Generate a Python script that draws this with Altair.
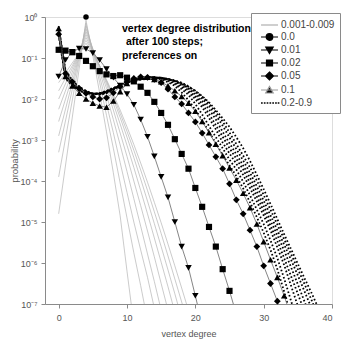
import altair as alt
import pandas as pd

# ---------------- data (log10 of probability) ----------------
# grey family 0.001 ... 0.009 (thin grey lines)
grey_x = {
    "0.001": [0, 4, 5, 6, 7, 8, 9, 10, 11],
    "0.002": [0, 4, 5, 6, 7, 8, 9, 10, 11, 12, 13],
    "0.003": [0, 4, 5, 6, 7, 8, 9, 10, 11, 12, 13, 14],
    "0.004": [0, 4, 5, 6, 7, 8, 9, 10, 11, 12, 13, 14, 15],
    "0.005": [0, 4, 5, 6, 7, 8, 9, 10, 11, 12, 13, 14, 15, 16],
    "0.006": [0, 4, 5, 6, 7, 8, 9, 10, 11, 12, 13, 14, 15, 16, 17],
    "0.007": [0, 4, 5, 6, 7, 8, 9, 10, 11, 12, 13, 14, 15, 16, 17, 18],
    "0.008": [0, 4, 5, 6, 7, 8, 9, 10, 11, 12, 13, 14, 15, 16, 17, 18, 19],
    "0.009": [0, 4, 5, 6, 7, 8, 9, 10, 11, 12, 13, 14, 15, 16, 17, 18, 19],
}
grey_log = {
    "0.001": [-4.8, -0.08, -0.95, -1.85, -2.8, -3.8, -4.85, -6.2, -7.5],
    "0.002": [-3.9, -0.15, -0.85, -1.6, -2.4, -3.2, -4.05, -4.9, -5.75, -6.55, -7.4],
    "0.003": [-3.3, -0.22, -0.8, -1.45, -2.12, -2.82, -3.55, -4.28, -5.0, -5.68, -6.35, -7.1],
    "0.004": [-2.9, -0.29, -0.78, -1.32, -1.9, -2.5, -3.12, -3.77, -4.43, -5.1, -5.78, -6.45, -7.15],
    "0.005": [-2.55, -0.36, -0.78, -1.24, -1.74, -2.27, -2.83, -3.4, -4.0, -4.6, -5.22, -5.85, -6.5, -7.15],
    "0.006": [-2.25, -0.43, -0.8, -1.2, -1.64, -2.11, -2.61, -3.13, -3.67, -4.23, -4.8, -5.39, -5.98, -6.58, -7.2],
    "0.007": [-2.0, -0.5, -0.83, -1.19, -1.58, -2.0, -2.45, -2.93, -3.43, -3.95, -4.49, -5.04, -5.6, -6.17, -6.75, -7.35],
    "0.008": [-1.8, -0.57, -0.86, -1.19, -1.55, -1.94, -2.35, -2.79, -3.25, -3.73, -4.23, -4.75, -5.28, -5.83, -6.39, -6.95, -7.52],
    "0.009": [-1.6, -0.64, -0.9, -1.2, -1.53, -1.89, -2.27, -2.68, -3.11, -3.56, -4.03, -4.52, -5.02, -5.54, -6.07, -6.61, -7.16],
}

# series drawn with markers
p00_x = [4]
p00_log = [0.0]
p001_log = [-1.45, -1.05, -0.85, -0.77, -0.78, -0.88, -1.05, -1.27, -1.48, -1.67, -1.88,
            -2.14, -2.5, -2.92, -3.4, -3.9, -4.4, -5.0, -5.6, -6.12, -6.8, -7.5]
p002_log = [-0.8, -0.82, -0.86, -0.95, -1.07, -1.2, -1.32, -1.4, -1.44, -1.42, -1.48,
            -1.57, -1.7, -1.85, -2.07, -2.34, -2.63, -2.98, -3.34, -3.7, -4.17, -4.63,
            -5.12, -5.6, -6.15, -6.68, -7.25]
p005_log = [-0.42, -1.38, -1.58, -1.74, -1.86, -1.95, -2.0, -1.97, -1.85, -1.7, -1.58,
            -1.5, -1.46, -1.47, -1.52, -1.6, -1.76, -1.95, -2.12, -2.34, -2.56, -2.83,
            -3.12, -3.41, -3.7, -4.07, -4.46, -4.8, -5.2, -5.6, -6.07, -6.5, -6.93, -7.4]
p01_log = [-0.28, -1.45, -1.68, -1.86, -2.0, -2.1, -2.17, -2.2, -2.05, -1.82, -1.62,
           -1.5, -1.46, -1.47, -1.52, -1.58, -1.68, -1.8, -1.94, -2.1, -2.3, -2.55,
           -2.82, -3.1, -3.38, -3.68, -3.98, -4.3, -4.65, -5.05, -5.48, -5.92, -6.35, -6.8, -7.3]

# dotted family 0.2 ... 0.9
dot_log = {
    "0.2": [-0.22, -1.30, -1.55, -1.70, -1.80, -1.87, -1.90, -1.86, -1.78, -1.68,
            -1.58, -1.52, -1.48, -1.46, -1.47, -1.52, -1.59, -1.68, -1.84, -2.03,
            -2.26, -2.52, -2.80, -3.08, -3.36, -3.62, -3.88, -4.18, -4.52, -4.88,
            -5.26, -5.68, -6.15, -6.70, -7.30],
    "0.3": [-0.25, -1.33, -1.57, -1.72, -1.81, -1.87, -1.89, -1.85, -1.77, -1.68,
            -1.59, -1.53, -1.49, -1.47, -1.47, -1.50, -1.56, -1.64, -1.76, -1.90,
            -2.12, -2.38, -2.66, -2.93, -3.20, -3.48, -3.72, -4.02, -4.35, -4.70,
            -5.05, -5.45, -5.88, -6.38, -6.92, -7.45],
    "0.4": [-0.28, -1.36, -1.59, -1.74, -1.82, -1.87, -1.88, -1.84, -1.76, -1.67,
            -1.59, -1.53, -1.49, -1.47, -1.47, -1.49, -1.54, -1.61, -1.71, -1.84,
            -2.00, -2.20, -2.46, -2.74, -3.06, -3.33, -3.58, -3.85, -4.17, -4.50,
            -4.84, -5.20, -5.62, -6.05, -6.55, -7.05],
    "0.5": [-0.32, -1.40, -1.62, -1.76, -1.83, -1.87, -1.87, -1.83, -1.75, -1.67,
            -1.59, -1.53, -1.50, -1.48, -1.47, -1.48, -1.52, -1.58, -1.67, -1.79,
            -1.94, -2.12, -2.36, -2.64, -2.92, -3.20, -3.46, -3.72, -4.05, -4.38,
            -4.73, -5.09, -5.46, -5.88, -6.32, -6.75, -7.20],
    "0.6": [-0.36, -1.43, -1.64, -1.77, -1.84, -1.87, -1.87, -1.82, -1.75, -1.67,
            -1.60, -1.54, -1.51, -1.49, -1.48, -1.48, -1.51, -1.56, -1.64, -1.75,
            -1.89, -2.05, -2.25, -2.50, -2.80, -3.08, -3.35, -3.62, -3.92, -4.26,
            -4.61, -4.97, -5.32, -5.70, -6.10, -6.52, -6.95, -7.40],
    "0.7": [-0.40, -1.46, -1.66, -1.78, -1.85, -1.87, -1.86, -1.81, -1.74, -1.67,
            -1.60, -1.55, -1.52, -1.50, -1.49, -1.49, -1.51, -1.55, -1.62, -1.72,
            -1.84, -1.99, -2.17, -2.40, -2.65, -2.94, -3.22, -3.50, -3.80, -4.13,
            -4.48, -4.84, -5.20, -5.55, -5.92, -6.30, -6.70, -7.10],
    "0.8": [-0.42, -1.48, -1.67, -1.79, -1.86, -1.88, -1.86, -1.81, -1.74, -1.67,
            -1.60, -1.55, -1.52, -1.50, -1.49, -1.49, -1.51, -1.55, -1.60, -1.69,
            -1.80, -1.94, -2.11, -2.32, -2.55, -2.82, -3.10, -3.38, -3.67, -3.99,
            -4.34, -4.70, -5.06, -5.42, -5.78, -6.15, -6.52, -6.90, -7.30],
    "0.9": [-0.45, -1.50, -1.68, -1.80, -1.86, -1.88, -1.86, -1.80, -1.73, -1.66,
            -1.60, -1.56, -1.53, -1.51, -1.50, -1.50, -1.52, -1.56, -1.62, -1.70,
            -1.80, -1.93, -2.08, -2.27, -2.47, -2.68, -2.93, -3.20, -3.51, -3.85,
            -4.20, -4.56, -4.93, -5.30, -5.66, -6.02, -6.38, -6.73, -7.10],
}

legend_labels = ["0.001-0.009", "0.0", "0.01", "0.02", "0.05", "0.1", "0.2-0.9"]
y_ticks = [1, 1e-1, 1e-2, 1e-3, 1e-4, 1e-5, 1e-6, 1e-7]
y_tick_labels = ["10⁰", "10⁻¹", "10⁻²", "10⁻³", "10⁻⁴", "10⁻⁵", "10⁻⁶", "10⁻⁷"]
x_ticks = [0, 10, 20, 30, 40]
title_lines = ["vertex degree distribution", "after 100 steps;", "preferences on"]

# ---------------- build long table ----------------
rows = []
for name, xs in grey_x.items():
    for x, lg in zip(xs, grey_log[name]):
        rows.append(dict(series=name, kind="grey", leg="0.001-0.009", x=x, p=10 ** lg))
marker_series = [("0.0", p00_x, p00_log), ("0.01", None, p001_log), ("0.02", None, p002_log),
                 ("0.05", None, p005_log), ("0.1", None, p01_log)]
for name, xs, lgs in marker_series:
    xs = xs if xs is not None else list(range(len(lgs)))
    for x, lg in zip(xs, lgs):
        rows.append(dict(series=name, kind="marker", leg=name, x=x, p=10 ** lg))
for name, lgs in dot_log.items():
    for x, lg in enumerate(lgs):
        rows.append(dict(series=name, kind="dot", leg="0.2-0.9", x=x, p=10 ** lg))
df = pd.DataFrame(rows)

# ---------------- scales / axes ----------------
FONT = "Liberation Sans"
AX = "#8a8a8a"
xscale = alt.Scale(domain=[-2, 40], nice=False, zero=False)
yscale = alt.Scale(type="log", domain=[1e-7, 1], nice=False)
xaxis = alt.Axis(values=x_ticks, title="vertex degree", grid=False, tickSize=4,
                 labelPadding=5, titlePadding=7, domainColor=AX, tickColor=AX,
                 labelColor="#555", labelFont=FONT, labelFontSize=9,
                 titleFont=FONT, titleFontSize=9, titleFontWeight="normal", titleColor="#555")
label_expr = "[" + ",".join("'%s'" % s for s in y_tick_labels) + "][round(-log(datum.value)/LN10)]"
yaxis = alt.Axis(values=y_ticks, labelExpr=label_expr, title="probability", grid=False,
                 tickSize=4, labelPadding=4, titlePadding=1, domainColor=AX, tickColor=AX,
                 labelColor="#555", labelFont=FONT, labelFontSize=9,
                 titleFont=FONT, titleFontSize=9.5, titleFontWeight="normal", titleColor="#555")

X = alt.X("x:Q", scale=xscale, axis=xaxis)
Y = alt.Y("p:Q", scale=yscale, axis=yaxis)
Xn = alt.X("x:Q", scale=xscale)
Yn = alt.Y("p:Q", scale=yscale)

base = alt.Chart(df)

grey_lines = base.transform_filter("datum.kind == 'grey'").mark_line(
    color="#b5b5b5", strokeWidth=0.7, clip=True).encode(x=X, y=Y, detail="series:N")
dot_lines = base.transform_filter("datum.kind == 'dot'").mark_line(
    color="black", strokeWidth=1.8, strokeDash=[1.6, 2.2], clip=True).encode(
    x=Xn, y=Yn, detail="series:N")
marker_lines = base.transform_filter("datum.kind == 'marker'").mark_line(
    color="#777777", strokeWidth=0.9, clip=True).encode(x=Xn, y=Yn, detail="series:N")

shape_of = {"0.0": ("circle", 30), "0.01": ("triangle-down", 42), "0.02": ("square", 38),
            "0.05": ("diamond", 46), "0.1": ("triangle-up", 42)}
point_layers = []
for name, (shp, sz) in shape_of.items():
    point_layers.append(
        base.transform_filter(f"datum.series == '{name}' && datum.p >= 1e-7").mark_point(
            shape=shp, size=sz, filled=True, color="black", opacity=1).encode(x=Xn, y=Yn))

# legend symbols: line + marker drawn as custom paths
line_seg = "M-0.33,0H2.5"
dots = "".join("M%.2f,-0.14h0.28v0.28h-0.28Z" % x0 for x0 in [-0.33, 0.14, 0.61, 1.08, 1.55, 2.02, 2.45])
legend_paths = [
    line_seg,
    line_seg + "M1.63,0A0.55,0.55,0,1,1,0.53,0A0.55,0.55,0,1,1,1.63,0Z",
    line_seg + "M0.46,-0.5L1.7,-0.5L1.083,0.58Z",
    line_seg + "M0.583,-0.5H1.583V0.5H0.583Z",
    line_seg + "M1.083,-0.66L1.75,0L1.083,0.66L0.42,0Z",
    line_seg + "M0.46,0.5L1.7,0.5L1.083,-0.58Z",
    dots,
]
legend_strokes = ["#b0b0b0", "black", "black", "black", "black", "#9a9a9a", "rgba(0,0,0,0)"]
leg = alt.Legend(orient="none", legendX=206, legendY=-4, title=None, symbolSize=144,
                 symbolStrokeWidth=1.2, symbolFillColor="black", symbolOpacity=1,
                 labelFont=FONT, labelFontSize=10, labelColor="#444", labelOffset=11,
                 padding=5, rowPadding=0, strokeColor="#8a8a8a", fillColor="white",
                 cornerRadius=0)
legend_layer = base.transform_filter("datum.p < 1e-7").mark_point(
    clip=True, filled=True, fill="black").encode(
    x=Xn, y=Yn,
    shape=alt.Shape("leg:N", scale=alt.Scale(domain=legend_labels, range=legend_paths), legend=leg),
    stroke=alt.Stroke("leg:N", scale=alt.Scale(domain=legend_labels, range=legend_strokes), legend=leg),
)

# annotation text (three lines, placed in pixels inside the plot area)
title_pos = [(77, 11.5), (81, 25), (77, 38.5)]
title_layers = []
for line, (tx, ty) in zip(title_lines, title_pos):
    title_layers.append(
        alt.Chart(pd.DataFrame({"t": [line]})).mark_text(
            font=FONT, fontSize=10.5, fontWeight="bold", color="black", align="left",
            baseline="middle").encode(text="t:N", x=alt.value(tx), y=alt.value(ty)))

chart = alt.layer(grey_lines, dot_lines, marker_lines, *point_layers, legend_layer,
                  *title_layers).properties(
    width=287, height=287,
    autosize=alt.AutoSizeParams(type="none"),
    padding={"left": 37, "top": 9, "right": 9, "bottom": 40},
).configure_view(stroke=AX, strokeWidth=1).configure(background="white")

chart.save("out.html", embed_options={"renderer": "svg", "actions": False})
